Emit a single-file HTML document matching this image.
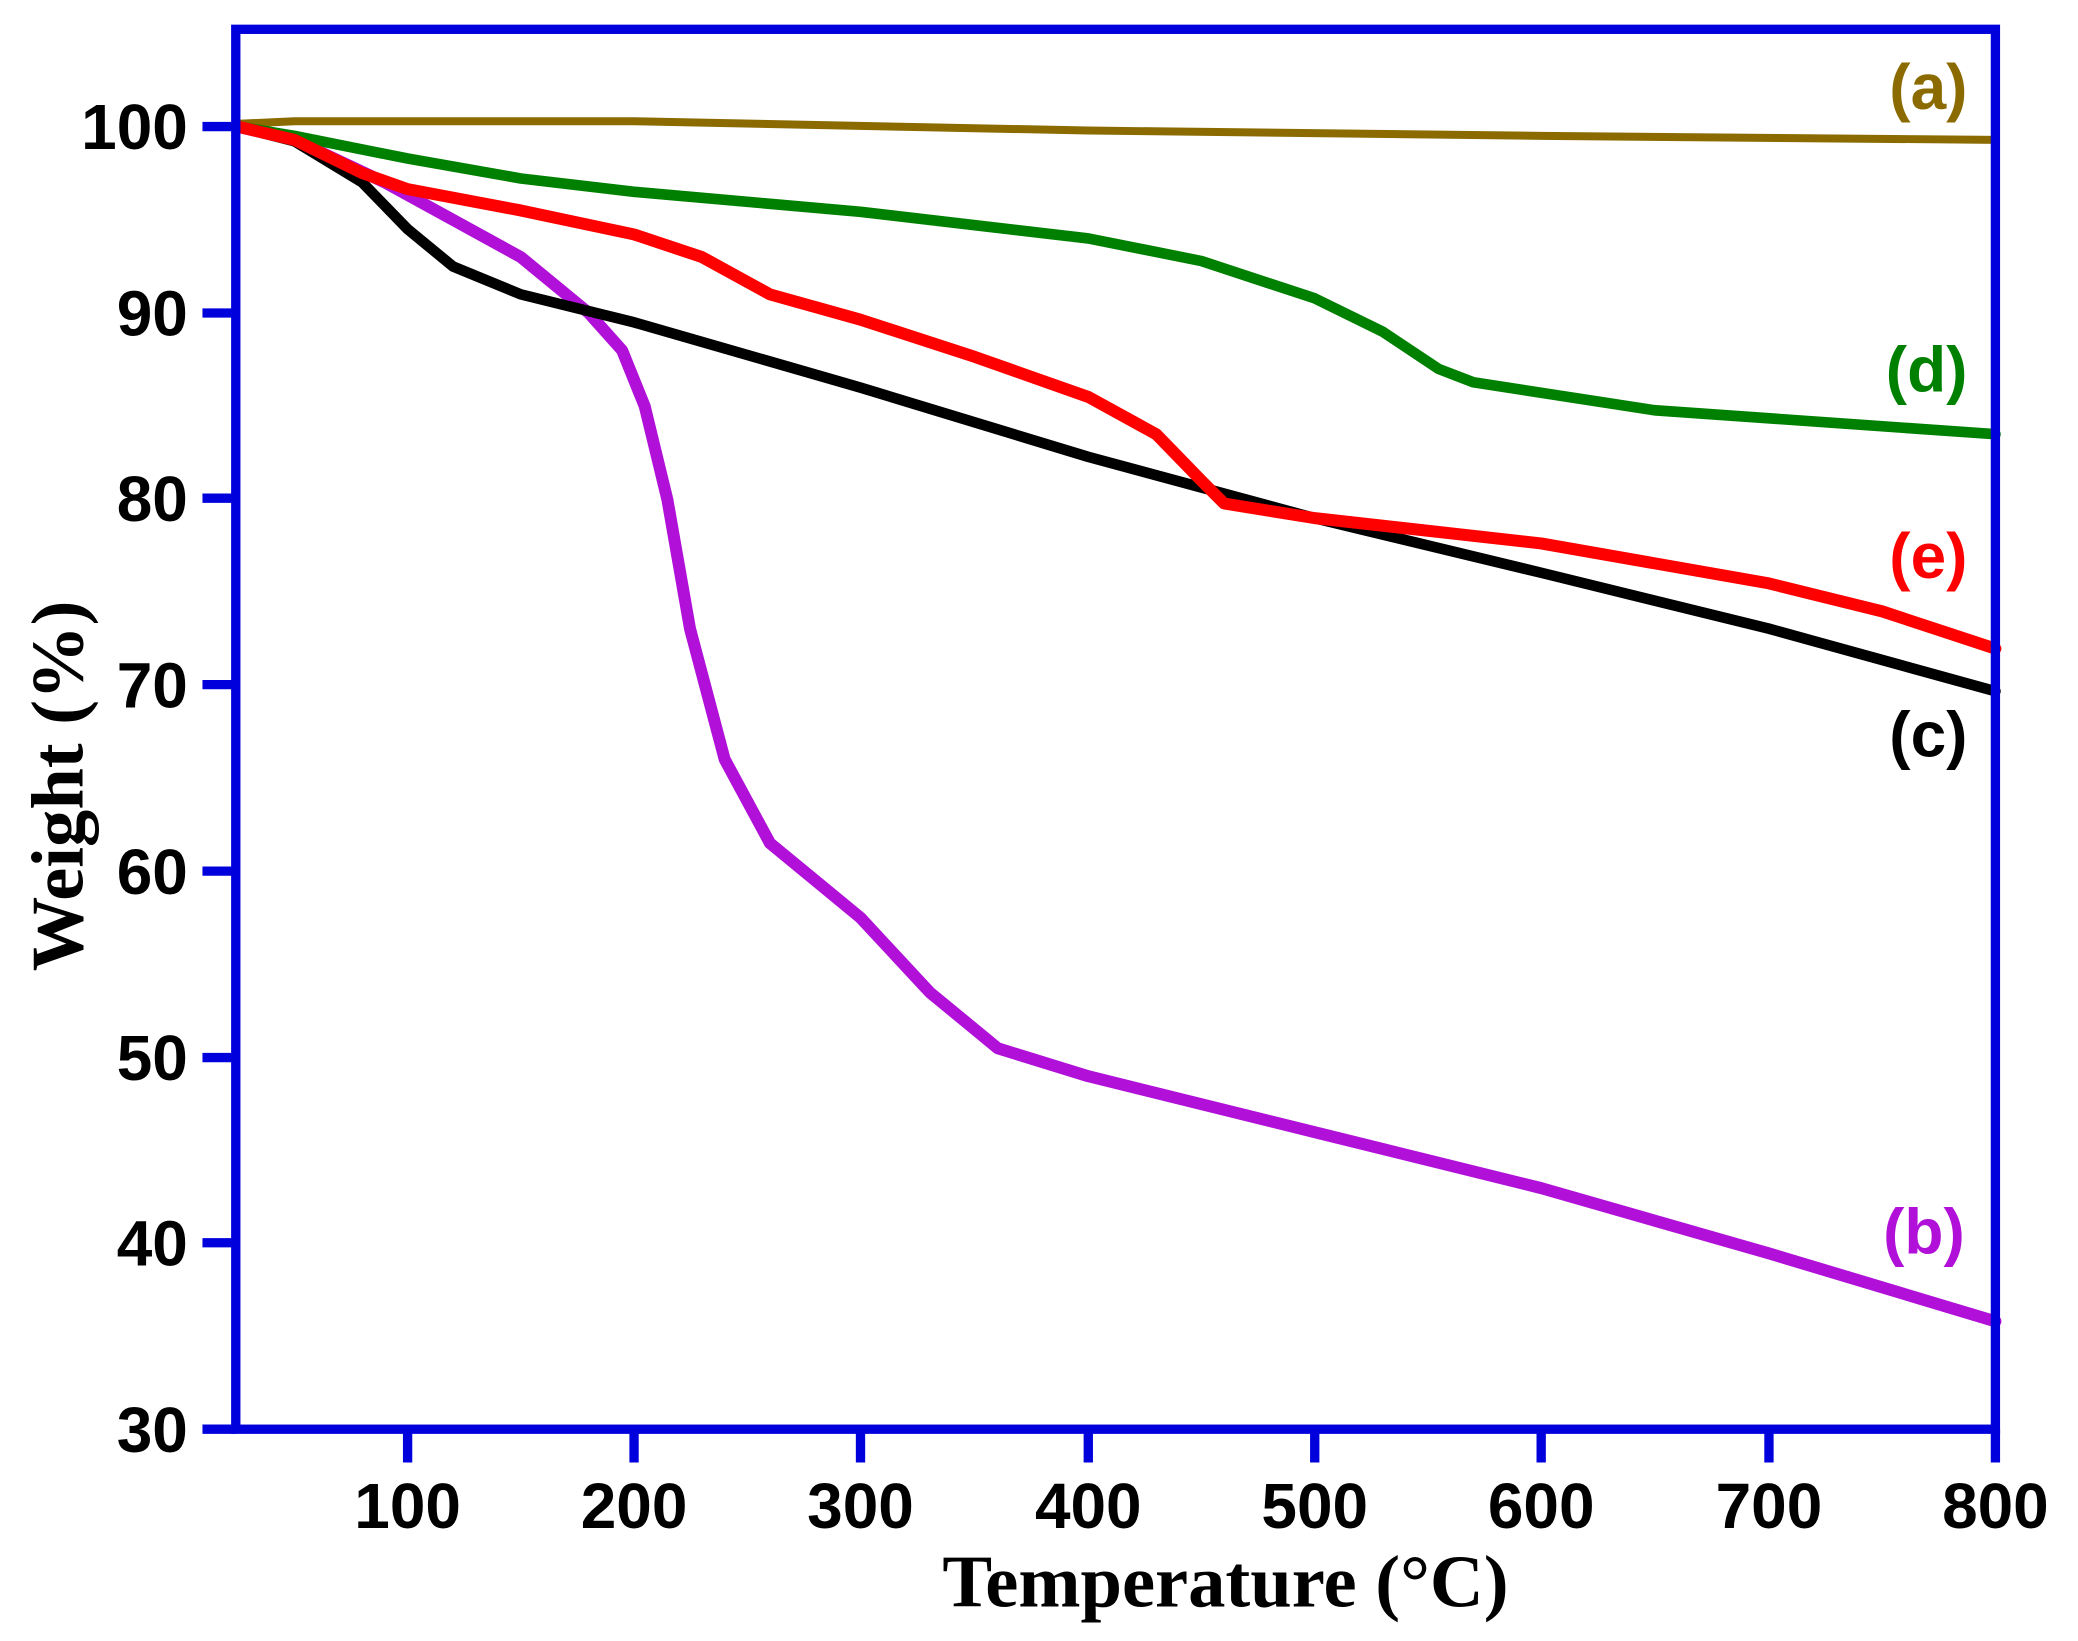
<!DOCTYPE html>
<html><head><meta charset="utf-8"><style>html,body{margin:0;padding:0;background:#fff}svg{display:block}</style></head>
<body>
<svg width="2078" height="1641" viewBox="0 0 1560 1232" preserveAspectRatio="none" xmlns="http://www.w3.org/2000/svg">
<g fill="none" stroke-linejoin="round" stroke-linecap="round">
<polyline stroke="#8B6B00" stroke-width="6" points="178,93 221,91 476,91 817,98 1157,102 1498,105"/>
<polyline stroke="#B010D8" stroke-width="9" points="178,95 221,105 289,137 391,193 442,235 467,263 484,305 501,375 518,472 544,570 578,633 646,689 698,745 749,787 817,808 987,850 1157,892 1328,941 1498,992"/>
<polyline stroke="#000" stroke-width="8" points="178,95 221,106 272,137 306,172 340,200 391,221 476,242 646,291 817,343 987,389 1157,430 1328,472 1498,519"/>
<polyline stroke="#008000" stroke-width="8" points="178,95 221,102 306,119 391,134 476,144 646,159 817,179 902,196 987,224 1038,249 1080,277 1106,287 1242,308 1498,326"/>
<polyline stroke="#FF0000" stroke-width="9" points="178,95 221,105 272,130 306,142 391,158 476,176 527,193 578,221 646,240 732,268 817,298 868,326 902,361 919,378 987,389 1157,408 1328,438 1413,459 1498,487"/>
</g>
<g fill="none" stroke="#0000DD" stroke-width="7">
<rect x="177" y="22" width="1321" height="1051"/>
</g>
<g stroke="#0000DD" stroke-width="7">
<line x1="152" y1="95" x2="177" y2="95"/><line x1="152" y1="235" x2="177" y2="235"/><line x1="152" y1="374" x2="177" y2="374"/><line x1="152" y1="514" x2="177" y2="514"/><line x1="152" y1="654" x2="177" y2="654"/><line x1="152" y1="794" x2="177" y2="794"/><line x1="152" y1="933" x2="177" y2="933"/><line x1="152" y1="1073" x2="177" y2="1073"/>
<line x1="306" y1="1073" x2="306" y2="1098"/><line x1="476" y1="1073" x2="476" y2="1098"/><line x1="646" y1="1073" x2="646" y2="1098"/><line x1="817" y1="1073" x2="817" y2="1098"/><line x1="987" y1="1073" x2="987" y2="1098"/><line x1="1157" y1="1073" x2="1157" y2="1098"/><line x1="1328" y1="1073" x2="1328" y2="1098"/><line x1="1498" y1="1073" x2="1498" y2="1098"/>
</g>
<g font-family="Liberation Sans, sans-serif" font-weight="bold" font-size="48" fill="#000" text-anchor="end">
<text x="141" y="112">100</text><text x="141" y="252">90</text><text x="141" y="391">80</text><text x="141" y="531">70</text><text x="141" y="671">60</text><text x="141" y="811">50</text><text x="141" y="950">40</text><text x="141" y="1090">30</text>
</g>
<g font-family="Liberation Sans, sans-serif" font-weight="bold" font-size="48" fill="#000" text-anchor="middle">
<text x="306" y="1147">100</text><text x="476" y="1147">200</text><text x="646" y="1147">300</text><text x="817" y="1147">400</text><text x="987" y="1147">500</text><text x="1157" y="1147">600</text><text x="1328" y="1147">700</text><text x="1498" y="1147">800</text>
</g>
<text x="920" y="1206" font-family="Liberation Serif, serif" font-weight="bold" font-size="56" text-anchor="middle">Temperature (°C)</text>
<text transform="translate(62,590) rotate(-90)" font-family="Liberation Serif, serif" font-weight="bold" font-size="56" text-anchor="middle">Weight (%)</text>
<g font-family="Liberation Sans, sans-serif" font-weight="bold" font-size="48" text-anchor="end">
<text x="1477" y="82" fill="#8B6B00">(a)</text>
<text x="1477" y="294" fill="#008000">(d)</text>
<text x="1477" y="434" fill="#FF0000">(e)</text>
<text x="1477" y="568" fill="#000">(c)</text>
<text x="1475" y="941" fill="#B010D8">(b)</text>
</g>
</svg>
</body></html>
